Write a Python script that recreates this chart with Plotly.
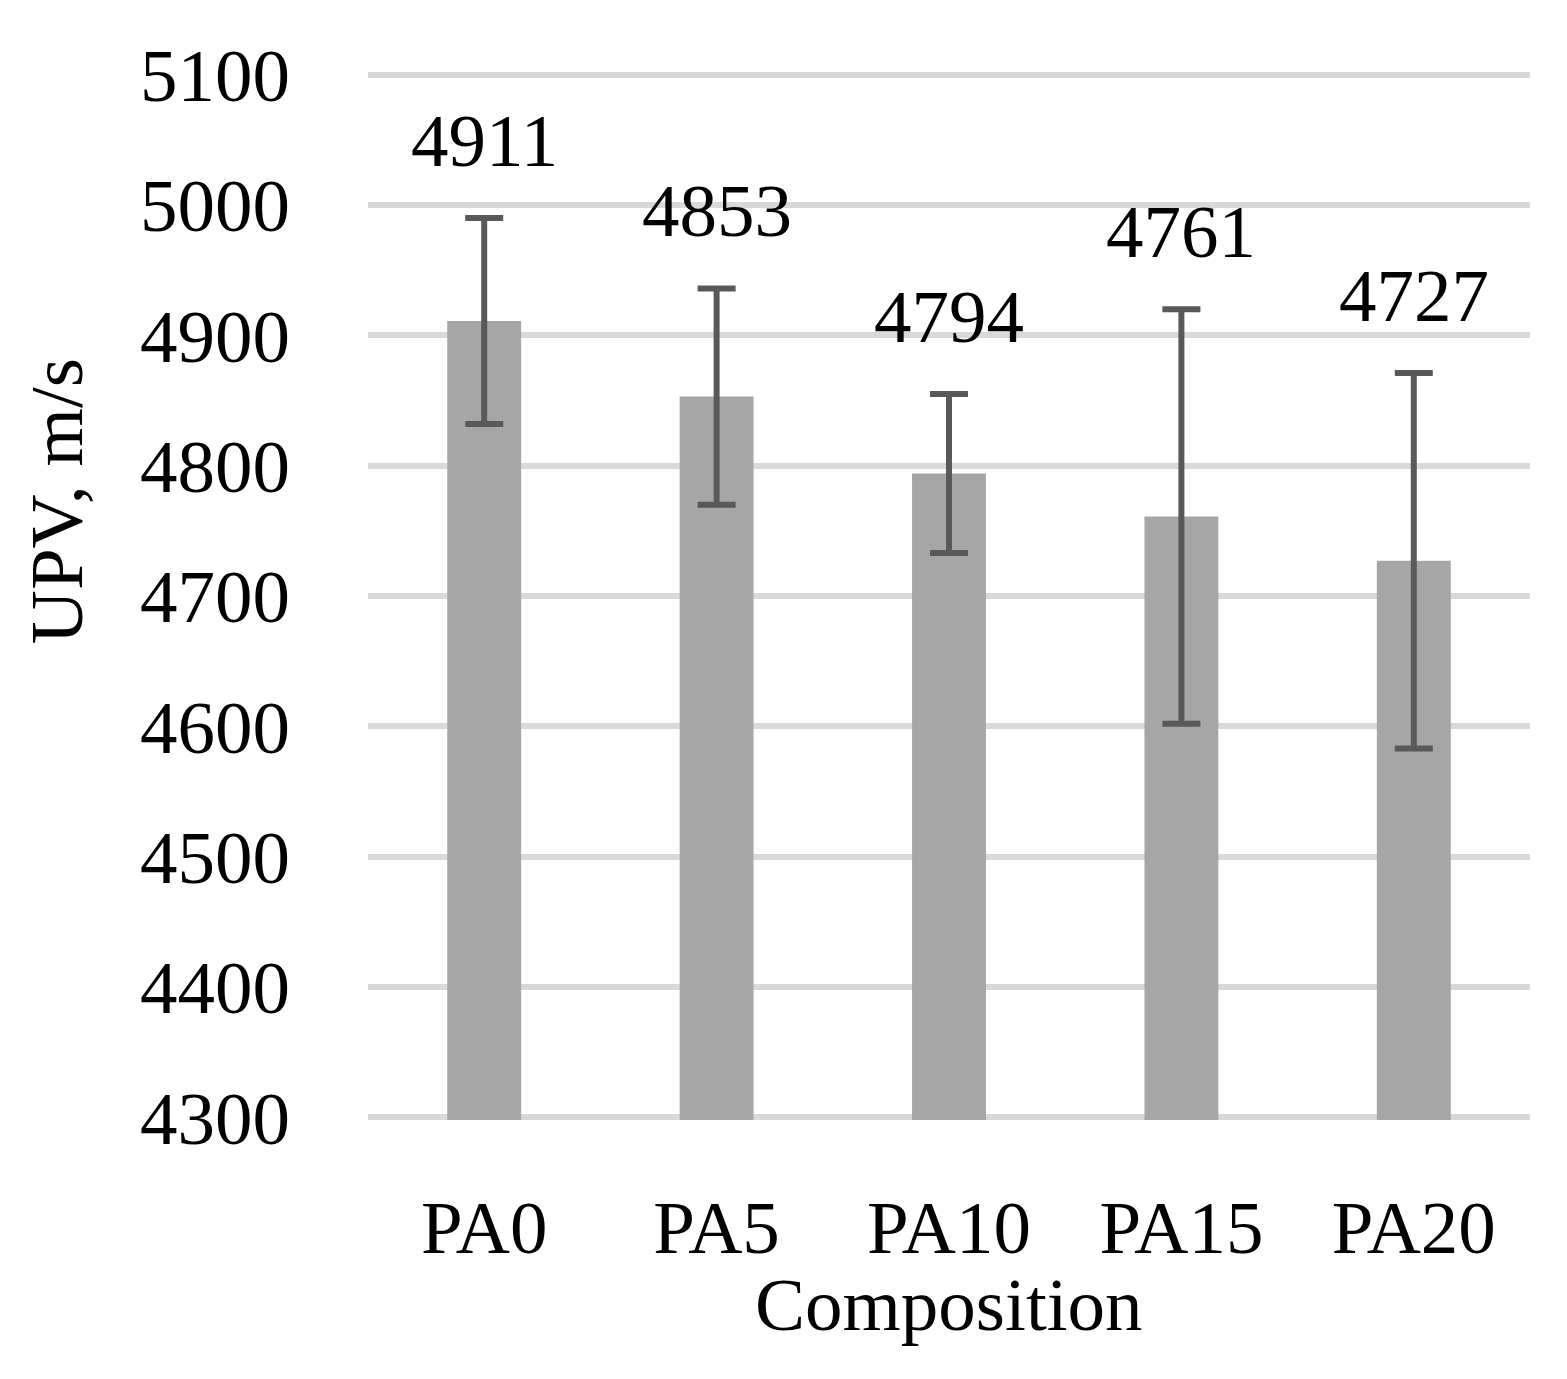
import plotly.graph_objects as go

# datos
composiciones = ["PA0", "PA5", "PA10", "PA15", "PA20"]
upv = [4911, 4853, 4794, 4761, 4727]
error_upv = [79, 83, 61, 159, 144]

FUENTE = "Liberation Serif"

fig = go.Figure()

fig.add_trace(go.Bar(
    x=composiciones,
    y=upv,
    marker=dict(color="#a6a6a6", line=dict(width=0)),
    error_y=dict(type="data", array=error_upv, visible=True,
                 color="#595959", thickness=6, width=19),
    showlegend=False
))

# etiquetas de valor encima de las barras de error
for c, v, e in zip(composiciones, upv, error_upv):
    fig.add_annotation(x=c, y=v + e, text=str(v), showarrow=False,
                       yanchor="bottom", yshift=34,
                       font=dict(family=FUENTE, size=75, color="black"))

# titulos de los ejes
fig.add_annotation(xref="paper", yref="paper", x=-0.268, y=0.59,
                   xanchor="center", yanchor="middle",
                   text="UPV, m/s", textangle=-90, showarrow=False,
                   font=dict(family=FUENTE, size=75, color="black"))
fig.add_annotation(xref="paper", yref="paper", x=0.5, y=-0.1756,
                   xanchor="center", yanchor="middle",
                   text="Composition", showarrow=False,
                   font=dict(family=FUENTE, size=75, color="black"))

fig.update_layout(
    width=1567, height=1379,
    margin=dict(l=360, r=45, t=64, b=267),
    plot_bgcolor="white", paper_bgcolor="white",
    bargap=0.682,
    font=dict(family=FUENTE, size=75, color="black"),
    xaxis=dict(showgrid=False, showline=False,
               ticks="", ticklabelstandoff=57),
    # rango un poco mas amplio para que se dibujen las lineas de 4300 y 5100
    yaxis=dict(range=[4298, 5102], tickvals=list(range(4300, 5101, 100)),
               showgrid=True, gridcolor="#d9d9d9", gridwidth=6,
               zeroline=False, showline=False, ticks="",
               ticklabelstandoff=77),
)

fig.write_html("out.html")
